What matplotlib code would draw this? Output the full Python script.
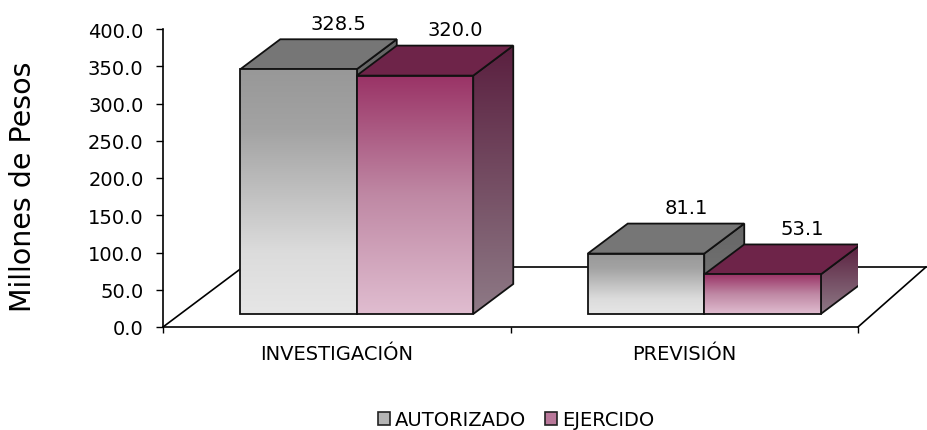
import numpy as np
import matplotlib
matplotlib.use('Agg')
import matplotlib.pyplot as plt
from matplotlib.patches import Polygon, Patch
from matplotlib.colors import LinearSegmentedColormap

# ---- data ----
categories = ['INVESTIGACIÓN', 'PREVISIÓN']
series_names = ['AUTORIZADO', 'EJERCIDO']
autorizado = [328.5, 81.1]
ejercido = [320.0, 53.1]
y_ticks = [0, 50, 100, 150, 200, 250, 300, 350, 400]

plt.rcParams['font.family'] = ['DejaVu Sans']
FS = 14

W, H = 927, 431
fig = plt.figure(figsize=(W / 100, H / 100), dpi=100)
L, R, B, T = 163, 858, 328, 30  # axes box in pixels
ax = fig.add_axes([L / W, (H - B) / H, (R - L) / W, (B - T) / H])
ax.set_xlim(0, len(categories))
ax.set_ylim(0, 400)
XP = len(categories) / (R - L)   # data units per pixel (x)
YP = 400 / (B - T)               # data units per pixel (y)

styles = [
    dict(front=[(0, '#989898'), (0.25, '#a3a3a3'), (0.75, '#dcdcdc'), (1, '#e6e6e6')],
         top='#767676',
         side=[(0, '#656565'), (1, '#7a7a7a')],
         legend='#b4b4b4'),
    dict(front=[(0, '#9a3366'), (0.5, '#bf88a4'), (1, '#e0bdd0')],
         top='#6e2449',
         side=[(0, '#5a1f3f'), (1, '#8e7a86')],
         legend='#b9789a'),
]
EC = '#111111'
LW = 1.3


def grad_face(verts, stops, z):
    verts = np.asarray(verts)
    poly = Polygon(verts, closed=True, facecolor='none', edgecolor=EC, lw=LW, zorder=z + 0.1,
                   joinstyle='miter')
    ax.add_patch(poly)
    cmap = LinearSegmentedColormap.from_list('g', stops)
    grad = np.linspace(0, 1, 256).reshape(-1, 1)
    xmin, ymin = verts.min(axis=0)
    xmax, ymax = verts.max(axis=0)
    im = ax.imshow(grad, cmap=cmap, extent=[xmin, xmax, ymin, ymax], origin='upper',
                   aspect='auto', zorder=z, interpolation='bilinear')
    im.set_clip_path(poly)
    return im


def flat_face(verts, color, z):
    ax.add_patch(Polygon(verts, closed=True, facecolor=color, edgecolor=EC, lw=LW, zorder=z,
                         joinstyle='miter'))


# ---- floor ----
fdy = 60 * YP
fdx_l = 80 * XP
fdx_r = 68 * XP
n = len(categories)
floor_kw = dict(color='black', lw=1.2, clip_on=False, zorder=1)
ax.plot([0, fdx_l], [0, fdy], **floor_kw)
ax.plot([fdx_l, n + fdx_r], [fdy, fdy], **floor_kw)
ax.plot([n, n + fdx_r], [0, fdy], **floor_kw)

# ---- bars ----
w = 116.5 * XP
off = 20 * XP
base = 13 * YP
ddx = 40 * XP
ddy = 30 * YP
z = 3
for i, cat in enumerate(categories):
    c = i + 0.5
    for j, vals in enumerate([autorizado, ejercido]):
        v = vals[i]
        st = styles[j]
        x0 = c + off - w + j * w
        y0 = base
        y1 = base + v
        side = [(x0 + w, y0), (x0 + w + ddx, y0 + ddy), (x0 + w + ddx, y1 + ddy), (x0 + w, y1)]
        top = [(x0, y1), (x0 + w, y1), (x0 + w + ddx, y1 + ddy), (x0 + ddx, y1 + ddy)]
        front = [(x0, y0), (x0 + w, y0), (x0 + w, y1), (x0, y1)]
        grad_face(side, st['side'], z)
        flat_face(top, st['top'], z + 0.2)
        grad_face(front, st['front'], z + 0.3)
        ax.annotate(f'{v:.1f}', xy=(x0 + w / 2 + ddx, y1 + ddy), xytext=(0, 4.5),
                    textcoords='offset points', ha='center', va='bottom', fontsize=FS,
                    color='black', zorder=10)
        z += 1
    ax.text(c, -36, cat, ha='center', va='center', fontsize=FS, color='black')

# ---- axes styling ----
for s in ['top', 'right']:
    ax.spines[s].set_visible(False)
ax.spines['left'].set_linewidth(1.2)
ax.spines['bottom'].set_linewidth(1.2)
ax.set_yticks(y_ticks)
ax.set_yticklabels([f'{t:.1f}' for t in y_ticks], fontsize=FS)
ax.set_xticks(range(n + 1))
ax.set_xticklabels([])
ax.tick_params(axis='y', direction='out', length=5, width=1, pad=9)
ax.tick_params(axis='x', direction='out', length=4.5, width=1)
ax.patch.set_visible(False)

fig.text(23 / W, 1 - 187 / H, 'Millones de Pesos', rotation=90, va='center', ha='center',
         fontsize=20.5)

handles = [Patch(facecolor=st['legend'], edgecolor='#222222', lw=1.2) for st in styles]
fig.legend(handles=handles, labels=series_names, loc='center',
           bbox_to_anchor=(516 / W, 1 - 421 / H), ncol=2, frameon=False,
           handlelength=0.6, handleheight=0.6, handletextpad=0.25, columnspacing=1.0,
           fontsize=FS)

fig.savefig('out.png', dpi=100)
